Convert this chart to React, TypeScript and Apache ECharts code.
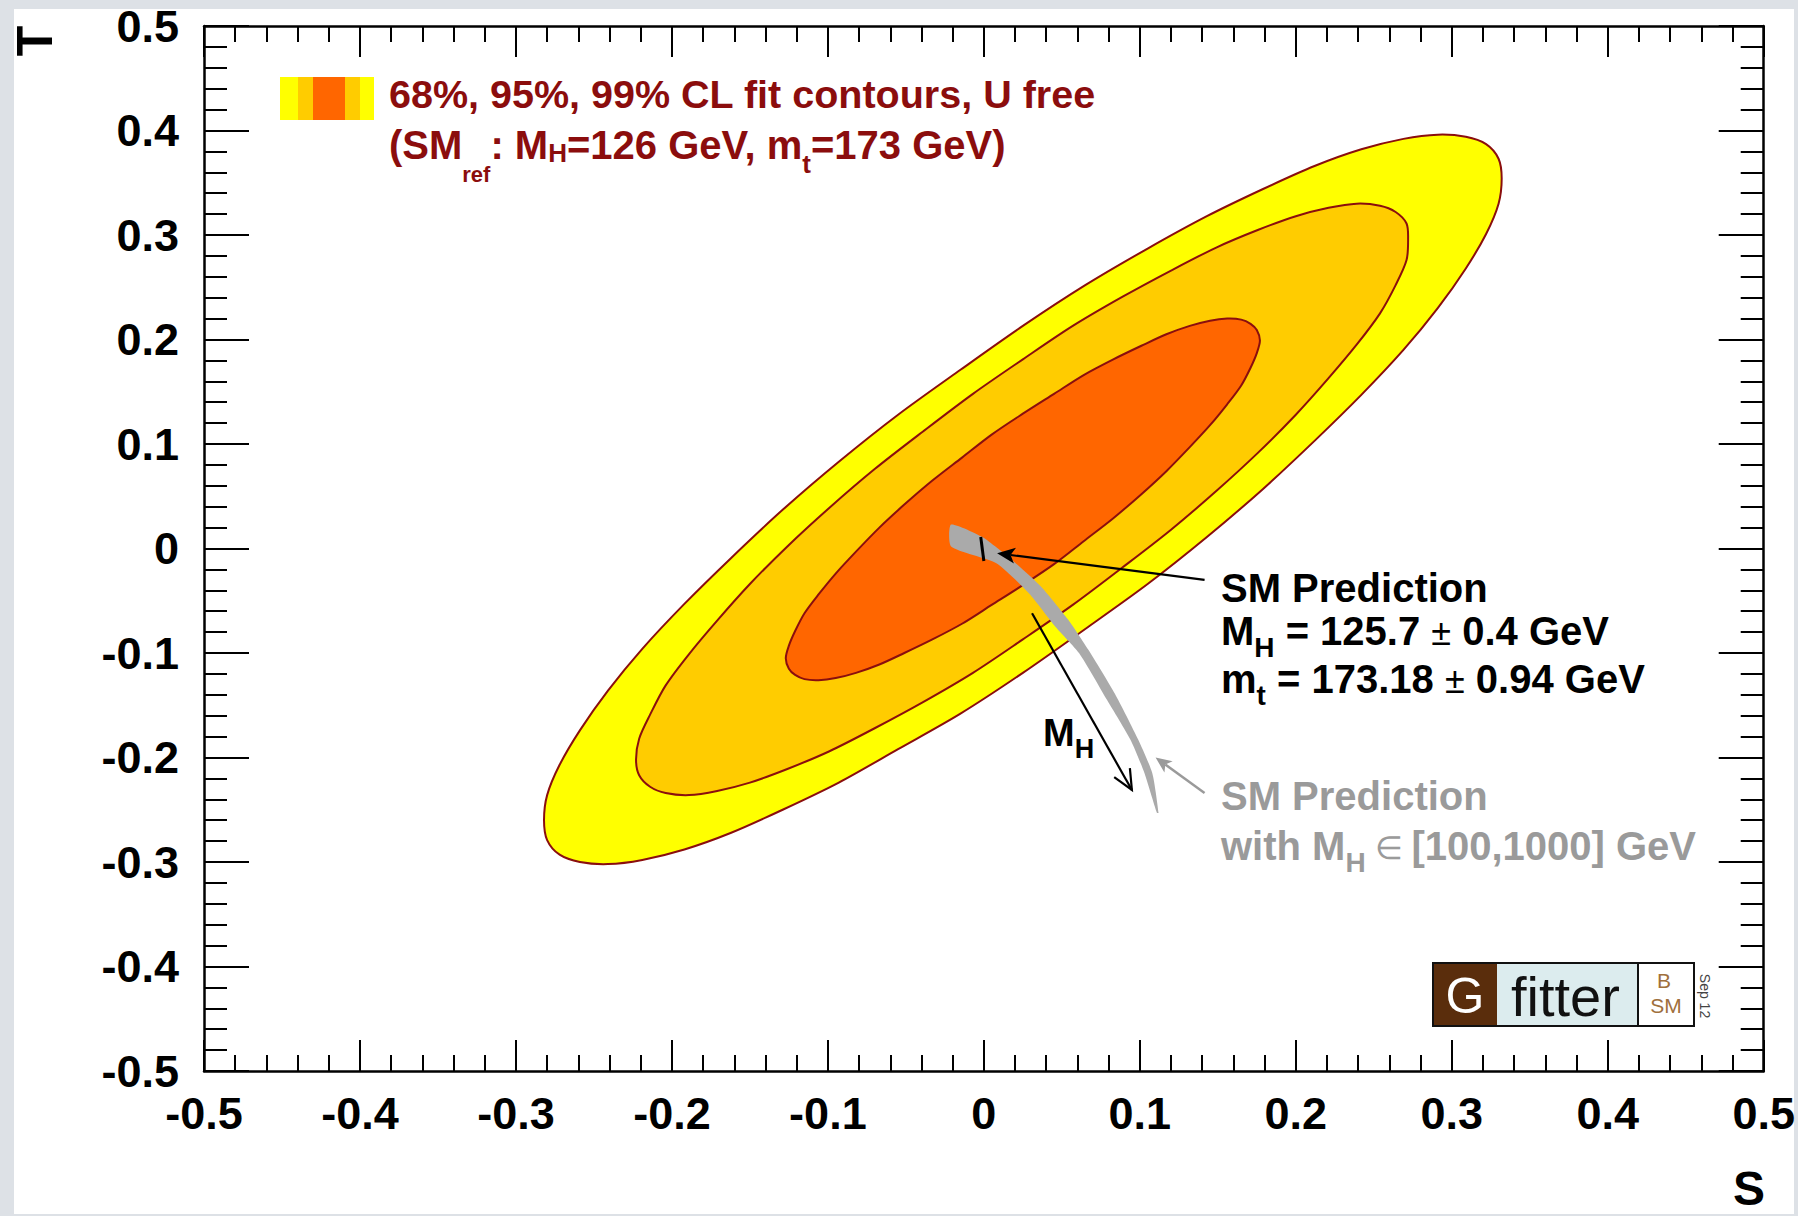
import React, { useEffect, useRef } from "react";
import * as echarts from "echarts";

const FONT = '"Liberation Sans", Arial, Helvetica, sans-serif';

// Axis ranges (S horizontal, T vertical)
const S_MIN = -0.5;
const S_MAX = 0.5;
const T_MIN = -0.5;
const T_MAX = 0.5;
const TICK_STEP = 0.1;

// Fit contours in the (S, T) plane, U free
const contour99: number[][] = [
  [0.332, 0.354], [0.33, 0.373], [0.322, 0.387], [0.309, 0.394], [0.291, 0.396], [0.269, 0.392],
  [0.242, 0.382], [0.212, 0.366], [0.179, 0.344], [0.143, 0.318], [0.105, 0.287], [0.065, 0.252],
  [0.025, 0.213], [-0.015, 0.171], [-0.055, 0.128], [-0.093, 0.083], [-0.129, 0.037], [-0.162, -0.009],
  [-0.192, -0.053], [-0.219, -0.096], [-0.241, -0.136], [-0.259, -0.174], [-0.272, -0.207], [-0.28, -0.236],
  [-0.282, -0.26], [-0.28, -0.279], [-0.272, -0.293], [-0.259, -0.3], [-0.241, -0.302], [-0.219, -0.298],
  [-0.192, -0.288], [-0.162, -0.272], [-0.129, -0.25], [-0.093, -0.224], [-0.055, -0.192], [-0.015, -0.158],
  [0.025, -0.119], [0.065, -0.077], [0.105, -0.034], [0.143, 0.011], [0.179, 0.057], [0.212, 0.103],
  [0.242, 0.147], [0.269, 0.19], [0.291, 0.23], [0.309, 0.268], [0.322, 0.301], [0.33, 0.33],
];
const contour95: number[][] = [
  [0.272, 0.296], [0.271, 0.311], [0.264, 0.322], [0.254, 0.328], [0.239, 0.33], [0.221, 0.326],
  [0.2, 0.318], [0.176, 0.305], [0.149, 0.288], [0.12, 0.266], [0.089, 0.241], [0.057, 0.213],
  [0.025, 0.181], [-0.007, 0.148], [-0.039, 0.112], [-0.07, 0.076], [-0.099, 0.039], [-0.126, 0.002],
  [-0.15, -0.034], [-0.171, -0.069], [-0.189, -0.101], [-0.204, -0.131], [-0.214, -0.159], [-0.221, -0.182],
  [-0.223, -0.202], [-0.221, -0.217], [-0.214, -0.228], [-0.204, -0.234], [-0.189, -0.236], [-0.171, -0.232],
  [-0.15, -0.224], [-0.126, -0.211], [-0.099, -0.194], [-0.07, -0.172], [-0.039, -0.147], [-0.007, -0.119],
  [0.025, -0.087], [0.057, -0.054], [0.089, -0.018], [0.12, 0.018], [0.149, 0.055], [0.176, 0.092],
  [0.2, 0.128], [0.221, 0.163], [0.239, 0.195], [0.254, 0.225], [0.264, 0.252], [0.271, 0.276],
];
const contour68: number[][] = [
  [0.177, 0.199], [0.175, 0.209], [0.171, 0.215], [0.165, 0.219], [0.156, 0.22], [0.145, 0.218],
  [0.132, 0.213], [0.117, 0.205], [0.101, 0.194], [0.083, 0.181], [0.064, 0.166], [0.045, 0.148],
  [0.025, 0.129], [0.005, 0.109], [-0.014, 0.087], [-0.033, 0.065], [-0.051, 0.042], [-0.067, 0.02],
  [-0.082, -0.003], [-0.095, -0.024], [-0.106, -0.044], [-0.115, -0.062], [-0.121, -0.079], [-0.125, -0.093],
  [-0.127, -0.105], [-0.125, -0.115], [-0.121, -0.121], [-0.115, -0.125], [-0.106, -0.126], [-0.095, -0.124],
  [-0.082, -0.119], [-0.067, -0.111], [-0.051, -0.1], [-0.033, -0.087], [-0.014, -0.072], [0.005, -0.054],
  [0.025, -0.035], [0.045, -0.015], [0.064, 0.007], [0.083, 0.029], [0.101, 0.052], [0.117, 0.074],
  [0.132, 0.097], [0.145, 0.118], [0.156, 0.138], [0.165, 0.156], [0.171, 0.173], [0.175, 0.187],
];

// SM prediction band for M_H in [100, 1000] GeV (upper/right edge and lower/left edge, from M_H = 100 GeV)
const bandUpper: number[][] = [
  [-0.021, 0.023], [-0.001, 0.011], [0.018, -0.011], [0.037, -0.037], [0.054, -0.068],
  [0.067, -0.097], [0.084, -0.139], [0.099, -0.183], [0.108, -0.215], [0.112, -0.253],
];
const bandLower: number[][] = [
  [-0.021, 0.002], [0.008, -0.014], [0.029, -0.043], [0.046, -0.075], [0.061, -0.1],
  [0.079, -0.145], [0.094, -0.183], [0.103, -0.215], [0.111, -0.253],
];

// SM prediction for M_H = 125.7 GeV, m_t = 173.18 GeV
const smMarker: number[][] = [[-0.002, 0.011], [0.0, -0.012]];

// Arrows: [tail S, tail T, tip S, tip T]
const arrows: number[][] = [
  [0.1415, -0.0301, 0.0085, -0.0046],
  [0.0309, -0.062, 0.0949, -0.2311],
  [0.1415, -0.234, 0.1101, -0.2],
];
const arrowLook = [
  { color: "#000000", filled: true, width: 2.2, headLength: 18, headWidth: 8 },
  { color: "#000000", filled: false, width: 2.2, headLength: 20, headWidth: 9 },
  { color: "#9a9a9a", filled: true, width: 2.5, headLength: 16, headWidth: 7 },
];

const C = {
  cl99: "#ffff00",
  cl95: "#ffcc00",
  cl68: "#ff6600",
  outline: "#8a0e0e",
  band: "#aaaaaa",
  grayText: "#9a9a9a",
  legend: "#8b0d0d",
  panel: "#dde1e6",
};

const tickLabel = (v: number) => {
  const r = Math.round(v * 10) / 10;
  return r === 0 ? "0" : String(r);
};

function polygonSeries(name: string, pts: number[][], fill: string, stroke: string | null, smooth: number) {
  return {
    type: "custom",
    name,
    data: pts,
    encode: { x: 0, y: 1 },
    silent: true,
    renderItem: (params: any, api: any) => {
      if (params.dataIndex !== 0) return null;
      const points = pts.map((p) => api.coord(p));
      return {
        type: "polygon",
        shape: { points, smooth },
        style: stroke ? { fill, stroke, lineWidth: 2 } : { fill, stroke: null },
      };
    },
  };
}

type RichDef = Record<string, { size: number; weight?: string; pad?: number }>;

function richText(x: number, top: number, text: string, color: string, defs: RichDef) {
  const rich: Record<string, any> = {};
  Object.keys(defs).forEach((k) => {
    const d = defs[k];
    rich[k] = {
      fill: color,
      fontFamily: FONT,
      fontSize: d.size,
      fontWeight: d.weight || "bold",
      verticalAlign: "top",
      padding: [d.pad || 0, 0, 0, 0],
    };
  });
  return {
    type: "text",
    x,
    y: top,
    z: 100,
    silent: true,
    style: {
      text,
      fill: color,
      fontFamily: FONT,
      fontSize: 40,
      fontWeight: "bold",
      align: "left",
      verticalAlign: "top",
      rich,
    },
  };
}

const annotationDefs: RichDef = {
  b: { size: 40 },
  n: { size: 36, weight: "normal", pad: 3 },
  e: { size: 32, weight: "normal", pad: 6 },
  s: { size: 28, pad: 22 },
};

function buildOption() {
  const axisLine = { show: true, onZero: false, lineStyle: { color: "#000", width: 2.5 } };
  const labelStyle = {
    color: "#000",
    fontSize: 45,
    fontWeight: "bold",
    fontFamily: FONT,
    formatter: tickLabel,
    showMinLabel: true,
    showMaxLabel: true,
  };
  const xTicks = {
    axisTick: { show: true, inside: true, length: 31, lineStyle: { color: "#000", width: 2 } },
    minorTick: { show: true, splitNumber: 5, length: 16, lineStyle: { color: "#000", width: 2 } },
  };
  const yTicks = {
    axisTick: { show: true, inside: true, length: 45, lineStyle: { color: "#000", width: 2 } },
    minorTick: { show: true, splitNumber: 5, length: 23, lineStyle: { color: "#000", width: 2 } },
  };
  const xBase = { type: "value", min: S_MIN, max: S_MAX, interval: TICK_STEP, axisLine, splitLine: { show: false } };
  const yBase = { type: "value", min: T_MIN, max: T_MAX, interval: TICK_STEP, axisLine, splitLine: { show: false } };

  const bandPolygon = bandUpper.concat(bandLower.slice().reverse());

  return {
    animation: false,
    backgroundColor: C.panel,
    textStyle: { fontFamily: FONT },
    grid: { left: 204, top: 26, width: 1562, height: 1045 },
    xAxis: [
      { ...xBase, ...xTicks, position: "bottom", axisLabel: { ...labelStyle, margin: 20 } },
      { ...xBase, ...xTicks, position: "top", axisLabel: { show: false } },
    ],
    yAxis: [
      { ...yBase, ...yTicks, position: "left", axisLabel: { ...labelStyle, margin: 25 } },
      { ...yBase, ...yTicks, position: "right", axisLabel: { show: false } },
    ],
    series: [
      polygonSeries("99% CL", contour99, C.cl99, C.outline, 0.3),
      polygonSeries("95% CL", contour95, C.cl95, C.outline, 0.3),
      polygonSeries("68% CL", contour68, C.cl68, C.outline, 0.3),
      polygonSeries("SM M_H band", bandPolygon, C.band, null, 0.2),
      {
        type: "line",
        name: "SM point",
        data: smMarker,
        symbol: "none",
        silent: true,
        lineStyle: { color: "#000", width: 3 },
        z: 3,
      },
      {
        type: "custom",
        name: "arrows",
        data: arrows,
        encode: { x: [0, 2], y: [1, 3] },
        silent: true,
        z: 4,
        renderItem: (params: any, api: any) => {
          const tail = api.coord([api.value(0), api.value(1)]);
          const tip = api.coord([api.value(2), api.value(3)]);
          const look = arrowLook[params.dataIndex];
          const dx = tip[0] - tail[0];
          const dy = tip[1] - tail[1];
          const len = Math.hypot(dx, dy);
          const ux = dx / len;
          const uy = dy / len;
          const nx = -uy;
          const ny = ux;
          const L = look.headLength;
          const W = look.headWidth;
          const left = [tip[0] - ux * L + nx * W, tip[1] - uy * L + ny * W];
          const right = [tip[0] - ux * L - nx * W, tip[1] - uy * L - ny * W];
          const children: any[] = [];
          if (look.filled) {
            const back = [tip[0] - ux * L * 0.75, tip[1] - uy * L * 0.75];
            children.push({
              type: "line",
              shape: { x1: tail[0], y1: tail[1], x2: back[0], y2: back[1] },
              style: { stroke: look.color, lineWidth: look.width },
            });
            children.push({
              type: "polygon",
              shape: { points: [tip, left, back, right] },
              style: { fill: look.color, stroke: null },
            });
          } else {
            children.push({
              type: "line",
              shape: { x1: tail[0], y1: tail[1], x2: tip[0], y2: tip[1] },
              style: { stroke: look.color, lineWidth: look.width },
            });
            children.push({
              type: "polyline",
              shape: { points: [left, tip, right] },
              style: { stroke: look.color, lineWidth: look.width, fill: null },
            });
          }
          return { type: "group", children };
        },
      },
    ],
    graphic: {
      elements: [
        // white panel on the slide background
        { type: "rect", z: -100, silent: true, shape: { x: 14, y: 9, width: 1780, height: 1205 }, style: { fill: "#ffffff" } },

        // legend swatch: 99 / 95 / 68 / 95 / 99
        { type: "rect", z: 100, silent: true, shape: { x: 280, y: 77, width: 18, height: 43 }, style: { fill: C.cl99 } },
        { type: "rect", z: 100, silent: true, shape: { x: 298, y: 77, width: 15, height: 43 }, style: { fill: C.cl95 } },
        { type: "rect", z: 100, silent: true, shape: { x: 313, y: 77, width: 32, height: 43 }, style: { fill: C.cl68 } },
        { type: "rect", z: 100, silent: true, shape: { x: 345, y: 77, width: 15, height: 43 }, style: { fill: C.cl95 } },
        { type: "rect", z: 100, silent: true, shape: { x: 360, y: 77, width: 14, height: 43 }, style: { fill: C.cl99 } },

        richText(389, 74, "{b|68%, 95%, 99% CL fit contours, U free}", C.legend, { b: { size: 39.5 } }),
        richText(
          389,
          125,
          "{b|(SM}{r|ref}{b|: M}{s|H}{b|=126 GeV, m}{t|t}{b|=173 GeV)}",
          C.legend,
          { b: { size: 40 }, r: { size: 22, pad: 38 }, s: { size: 26, pad: 15 }, t: { size: 26, pad: 26 } }
        ),

        // SM prediction labels
        richText(1221, 568, "{b|SM Prediction}", "#000", annotationDefs),
        richText(1221, 611, "{b|M}{s|H}{b| = 125.7 }{n|±}{b| 0.4 GeV}", "#000", annotationDefs),
        richText(1221, 659, "{b|m}{s|t}{b| = 173.18 }{n|±}{b| 0.94 GeV}", "#000", annotationDefs),
        richText(1221, 776, "{b|SM Prediction}", C.grayText, annotationDefs),
        richText(1221, 826, "{b|with M}{s|H}{e| ∈ }{b|[100,1000] GeV}", C.grayText, annotationDefs),
        richText(1043, 714, "{b|M}{s|H}", "#000", { b: { size: 38 }, s: { size: 27, pad: 21 } }),

        // axis titles
        {
          type: "text",
          z: 100,
          silent: true,
          x: 1749,
          y: 1188,
          style: { text: "S", fill: "#000", fontFamily: FONT, fontSize: 48, fontWeight: "bold", align: "center", verticalAlign: "middle" },
        },
        {
          type: "text",
          z: 100,
          silent: true,
          x: 35,
          y: 41,
          rotation: Math.PI / 2,
          style: { text: "T", fill: "#000", fontFamily: FONT, fontSize: 50, fontWeight: "bold", align: "center", verticalAlign: "middle" },
        },

        // Gfitter logo
        { type: "rect", z: 100, silent: true, shape: { x: 1433, y: 963, width: 64, height: 63 }, style: { fill: "#5a2d0c" } },
        { type: "rect", z: 100, silent: true, shape: { x: 1497, y: 963, width: 141, height: 63 }, style: { fill: "#dcecee" } },
        { type: "rect", z: 100, silent: true, shape: { x: 1638, y: 963, width: 56, height: 63 }, style: { fill: "#ffffff" } },
        { type: "rect", z: 101, silent: true, shape: { x: 1433, y: 963, width: 261, height: 63 }, style: { fill: null, stroke: "#111", lineWidth: 2 } },
        { type: "line", z: 101, silent: true, shape: { x1: 1638, y1: 963, x2: 1638, y2: 1026 }, style: { stroke: "#111", lineWidth: 2 } },
        {
          type: "text", z: 102, silent: true, x: 1465, y: 996,
          style: { text: "G", fill: "#ffffff", fontFamily: FONT, fontSize: 50, align: "center", verticalAlign: "middle" },
        },
        {
          type: "text", z: 102, silent: true, x: 1511, y: 996,
          style: { text: "fitter", fill: "#111", fontFamily: FONT, fontSize: 56, align: "left", verticalAlign: "middle" },
        },
        {
          type: "text", z: 102, silent: true, x: 1664, y: 980,
          style: { text: "B", fill: "#a0703c", fontFamily: FONT, fontSize: 21, align: "center", verticalAlign: "middle" },
        },
        {
          type: "text", z: 102, silent: true, x: 1666, y: 1005,
          style: { text: "SM", fill: "#a0703c", fontFamily: FONT, fontSize: 21, align: "center", verticalAlign: "middle" },
        },
        {
          type: "text", z: 102, silent: true, x: 1705, y: 996, rotation: -Math.PI / 2,
          style: { text: "Sep 12", fill: "#444", fontFamily: FONT, fontSize: 14, align: "center", verticalAlign: "middle" },
        },
      ],
    },
  };
}

export default function App() {
  const ref = useRef<HTMLDivElement>(null);
  useEffect(() => {
    if (!ref.current) return;
    const chart = echarts.init(ref.current, null, { renderer: "svg" });
    chart.setOption(buildOption() as any);
    return () => chart.dispose();
  }, []);
  return (
    <div
      ref={ref}
      style={{ position: "absolute", left: 0, top: 0, width: 1798, height: 1216 }}
    />
  );
}
